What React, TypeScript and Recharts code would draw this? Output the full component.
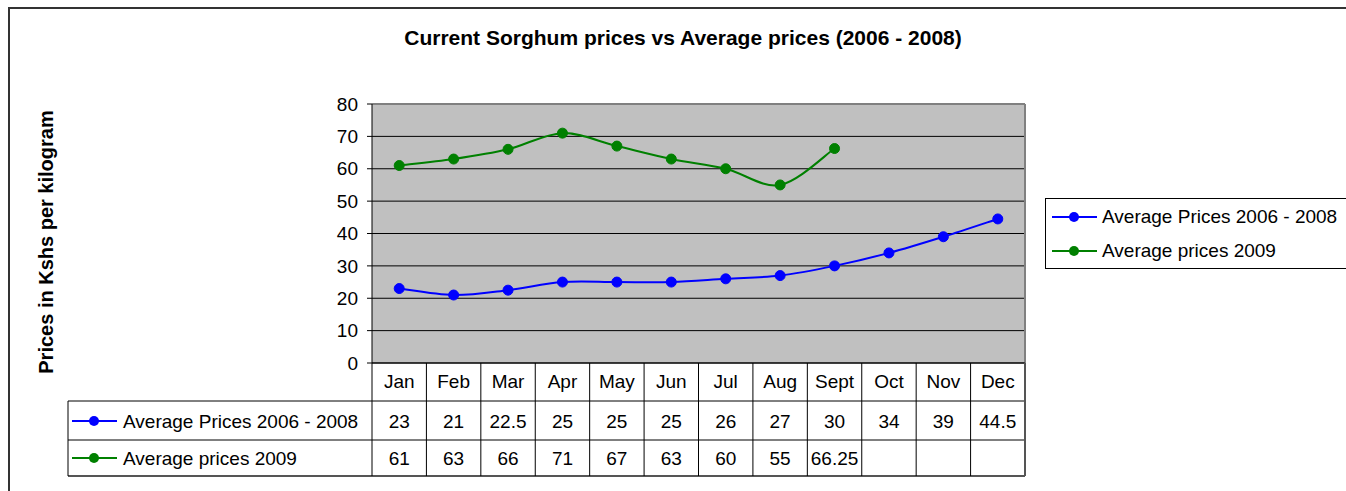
import { LineChart, Line, XAxis, YAxis, CartesianGrid, Customized } from "recharts";

const MONTHS = ["Jan", "Feb", "Mar", "Apr", "May", "Jun", "Jul", "Aug", "Sept", "Oct", "Nov", "Dec"];
const AVG_2006_2008 = [23, 21, 22.5, 25, 25, 25, 26, 27, 30, 34, 39, 44.5];
const AVG_2009 = [61, 63, 66, 71, 67, 63, 60, 55, 66.25, null, null, null];
const Y_TICKS = [0, 10, 20, 30, 40, 50, 60, 70, 80];
const SERIES_NAMES = ["Average Prices 2006 - 2008", "Average prices 2009"];
const SERIES_COLORS = ["#0000FF", "#008000"];

const data = MONTHS.map((month, i) => ({
    month,
    avg: AVG_2006_2008[i],
    cur: AVG_2009[i],
}));

const W = 1346;
const H = 491;
const PLOT_LEFT = 372;
const PLOT_RIGHT = 1025;
const PLOT_TOP = 104;
const PLOT_BOTTOM = 363;
const COL_W = (PLOT_RIGHT - PLOT_LEFT) / MONTHS.length;
const ROW1_TOP = 401;
const ROW2_TOP = 440;
const TABLE_BOTTOM = 476;
const TABLE_LEFT = 68;
const FONT = "'Liberation Sans', Arial, sans-serif";
const FS = 19;

// Excel-like smoothed line (bezier with 1/6 tangents)
function excelCurve(context) {
    let pts = [];
    return {
        areaStart() {},
        areaEnd() {},
        lineStart() { pts = []; },
        point(x, y) { pts.push([+x, +y]); },
        lineEnd() {
            if (!pts.length) return;
            context.moveTo(pts[0][0], pts[0][1]);
            for (let i = 0; i < pts.length - 1; i++) {
                const p0 = pts[i - 1] || pts[i];
                const p1 = pts[i];
                const p2 = pts[i + 1];
                const p3 = pts[i + 2] || p2;
                context.bezierCurveTo(
                    p1[0] + (p2[0] - p0[0]) / 6, p1[1] + (p2[1] - p0[1]) / 6,
                    p2[0] - (p3[0] - p1[0]) / 6, p2[1] - (p3[1] - p1[1]) / 6,
                    p2[0], p2[1]
                );
            }
        },
    };
}

function TableTick({ x, payload, index }) {
    const left = x - COL_W / 2;
    const v2 = AVG_2009[index];
    return (
        <g fontFamily={FONT} fontSize={FS} fill="#000">
            <line x1={left} x2={left} y1={PLOT_BOTTOM} y2={TABLE_BOTTOM} stroke="#000" />
            {index === MONTHS.length - 1 && (
                <line x1={left + COL_W} x2={left + COL_W} y1={PLOT_BOTTOM} y2={TABLE_BOTTOM} stroke="#555" strokeWidth={2} />
            )}
            <text x={x} y={381} textAnchor="middle" dominantBaseline="central">{payload.value}</text>
            <text x={x} y={421} textAnchor="middle" dominantBaseline="central">{AVG_2006_2008[index]}</text>
            <text x={x} y={458} textAnchor="middle" dominantBaseline="central">{v2 == null ? "" : v2}</text>
        </g>
    );
}

function Decorations() {
    const rows = [421, 458];
    return (
        <g fontFamily={FONT}>
            <line x1={8} x2={W + 10} y1={8} y2={8} stroke="#333" strokeWidth={2} />
            <line x1={9} x2={9} y1={8} y2={H + 10} stroke="#333" strokeWidth={2} />
            <text x={683} y={37} textAnchor="middle" dominantBaseline="central" fontSize={21} fontWeight="bold" fill="#000">
                Current Sorghum prices vs Average prices (2006 - 2008)
            </text>
            <text
                x={46}
                y={242}
                transform="rotate(-90 46 242)"
                textAnchor="middle"
                dominantBaseline="central"
                fontSize={20}
                fontWeight="bold"
                fill="#000"
            >
                Prices in Kshs per kilogram
            </text>
            <line x1={PLOT_LEFT} x2={PLOT_RIGHT} y1={PLOT_TOP} y2={PLOT_TOP} stroke="#808080" strokeWidth={2} />
            <line x1={PLOT_RIGHT} x2={PLOT_RIGHT} y1={PLOT_TOP} y2={PLOT_BOTTOM} stroke="#808080" strokeWidth={2} />
            <line x1={TABLE_LEFT} x2={PLOT_RIGHT} y1={ROW1_TOP} y2={ROW1_TOP} stroke="#000" />
            <line x1={TABLE_LEFT} x2={PLOT_RIGHT} y1={ROW2_TOP} y2={ROW2_TOP} stroke="#000" />
            <line x1={TABLE_LEFT} x2={PLOT_RIGHT} y1={TABLE_BOTTOM} y2={TABLE_BOTTOM} stroke="#555" strokeWidth={2} />
            <line x1={TABLE_LEFT} x2={TABLE_LEFT} y1={ROW1_TOP} y2={TABLE_BOTTOM} stroke="#000" />
            {SERIES_NAMES.map((name, i) => (
                <g key={name}>
                    <line x1={72} x2={117} y1={rows[i]} y2={rows[i]} stroke={SERIES_COLORS[i]} strokeWidth={2} />
                    <circle cx={94} cy={rows[i]} r={5} fill={SERIES_COLORS[i]} />
                    <text x={123} y={rows[i]} dominantBaseline="central" fontSize={FS} fill="#000">{name}</text>
                </g>
            ))}
        </g>
    );
}

function LegendBox() {
    return (
        <div style={{
            position: "absolute",
            left: 1045,
            top: 198,
            width: 330,
            height: 71,
            border: "1px solid #000",
            boxSizing: "border-box",
            background: "#fff",
            fontFamily: FONT,
            fontSize: FS,
        }}>
            {SERIES_NAMES.map((name, i) => (
                <div key={name} style={{
                    position: "absolute",
                    left: 6,
                    top: 18 + i * 34 - 11,
                    height: 22,
                    display: "flex",
                    alignItems: "center",
                    whiteSpace: "nowrap",
                }}>
                    <svg width={46} height={22}>
                        <line x1={0} x2={45} y1={11} y2={11} stroke={SERIES_COLORS[i]} strokeWidth={2} />
                        <circle cx={22} cy={11} r={5} fill={SERIES_COLORS[i]} />
                    </svg>
                    <span style={{ marginLeft: 4, color: "#000" }}>{name}</span>
                </div>
            ))}
        </div>
    );
}

export default function App() {
    return (
        <div style={{ position: "absolute", left: 0, top: 0, width: W, height: H, overflow: "hidden", background: "#fff" }}>
            <div style={{ position: "absolute", left: 0, top: 0 }}>
                <LineChart
                    width={W}
                    height={H}
                    data={data}
                    margin={{ top: PLOT_TOP, right: W - PLOT_RIGHT, bottom: H - TABLE_BOTTOM - 1, left: PLOT_LEFT - 60 }}
                >
                    <CartesianGrid fill="#C0C0C0" stroke="#000" vertical={false} />
                    <XAxis
                        dataKey="month"
                        interval={0}
                        tickLine={false}
                        axisLine={{ stroke: "#000" }}
                        height={TABLE_BOTTOM + 1 - PLOT_BOTTOM}
                        padding={{ left: COL_W / 2, right: COL_W / 2 }}
                        tick={<TableTick />}
                    />
                    <YAxis
                        width={60}
                        domain={[0, 80]}
                        ticks={Y_TICKS}
                        interval={0}
                        tickSize={5}
                        tickMargin={9}
                        axisLine={{ stroke: "#000" }}
                        tickLine={{ stroke: "#000" }}
                        tick={{ fontFamily: FONT, fontSize: FS, fill: "#000" }}
                    />
                    <Customized component={Decorations} />
                    <Line
                        dataKey="avg"
                        name={SERIES_NAMES[0]}
                        type={excelCurve}
                        stroke={SERIES_COLORS[0]}
                        strokeWidth={2}
                        dot={{ r: 5, fill: SERIES_COLORS[0], stroke: SERIES_COLORS[0], strokeWidth: 1 }}
                        isAnimationActive={false}
                    />
                    <Line
                        dataKey="cur"
                        name={SERIES_NAMES[1]}
                        type={excelCurve}
                        stroke={SERIES_COLORS[1]}
                        strokeWidth={2}
                        dot={{ r: 5, fill: SERIES_COLORS[1], stroke: SERIES_COLORS[1], strokeWidth: 1 }}
                        isAnimationActive={false}
                    />
                </LineChart>
            </div>
            <LegendBox />
        </div>
    );
}
